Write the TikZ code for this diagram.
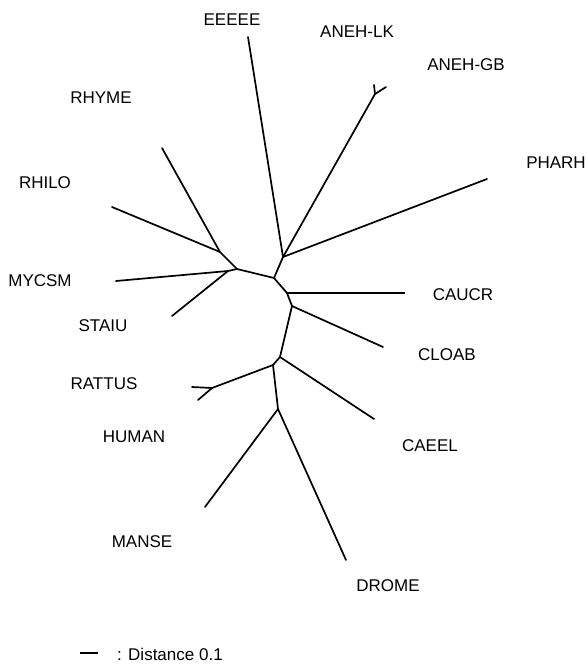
\documentclass[tikz,border=0pt]{standalone}
\usepackage{fontspec}
\setmainfont{Liberation Sans}
\begin{document}
\begin{tikzpicture}[x=1pt,y=-1pt,
  br/.style={line width=1.7pt, line cap=round},
  lbl/.style={font=\fontsize{17}{17}\selectfont, inner sep=0pt}]
\useasboundingbox (0,0) rectangle (587,669);
% internal nodes
\coordinate (A) at (220,252);
\coordinate (B) at (237,269);
\coordinate (K) at (228,271);
\coordinate (C) at (274,278);
\coordinate (D) at (283,257);
\coordinate (N) at (375,94);
\coordinate (E) at (287,293);
\coordinate (F) at (292,306);
\coordinate (G) at (280,357);
\coordinate (H) at (273,365);
\coordinate (J) at (212,388);
\coordinate (I) at (278,409);
% tips
\coordinate (tEEEEE) at (248,37);
\coordinate (tLK) at (374,85);
\coordinate (tGB) at (386,87);
\coordinate (tPHARH) at (487,179);
\coordinate (tRHYME) at (162,148);
\coordinate (tRHILO) at (112,207);
\coordinate (tMYCSM) at (116,281);
\coordinate (tSTAIU) at (172,316);
\coordinate (tCAUCR) at (405,293);
\coordinate (tCLOAB) at (383,347);
\coordinate (tRATTUS) at (192,387);
\coordinate (tHUMAN) at (198,400);
\coordinate (tCAEEL) at (374,419);
\coordinate (tMANSE) at (205,507);
\coordinate (tDROME) at (346,560);
% branches
\draw[br] (tRHYME) -- (A) -- (B);
\draw[br] (tRHILO) -- (A);
\draw[br] (tMYCSM) -- (K) -- (B);
\draw[br] (tSTAIU) -- (K);
\draw[br] (B) -- (C) -- (D) -- (tEEEEE);
\draw[br] (D) -- (N) -- (tLK);
\draw[br] (N) -- (tGB);
\draw[br] (D) -- (tPHARH);
\draw[br] (C) -- (E) -- (F) -- (G) -- (H) -- (I);
\draw[line width=1.3pt] (E) -- (tCAUCR);
\draw[br] (F) -- (tCLOAB);
\draw[br] (G) -- (tCAEEL);
\draw[br] (H) -- (J) -- (tRATTUS);
\draw[br] (J) -- (tHUMAN);
\draw[br] (I) -- (tMANSE);
\draw[br] (I) -- (tDROME);
% labels
\node[lbl] (lEEEEE) at (232,20) {EEEEE};
\node[lbl] (lLK) at (357,32) {ANEH-LK};
\node[lbl] (lGB) at (466,65) {ANEH-GB};
\node[lbl] (lRHYME) at (101,98) {RHYME};
\node[lbl] (lPHARH) at (556,163) {PHARH};
\node[lbl] (lRHILO) at (45,183) {RHILO};
\node[lbl] (lMYCSM) at (40,281) {MYCSM};
\node[lbl] (lCAUCR) at (463,295) {CAUCR};
\node[lbl] (lSTAIU) at (103,326) {STAIU};
\node[lbl] (lCLOAB) at (447,355) {CLOAB};
\node[lbl] (lRATTUS) at (104,384) {RATTUS};
\node[lbl] (lHUMAN) at (134,437) {HUMAN};
\node[lbl] (lCAEEL) at (430,446) {CAEEL};
\node[lbl] (lMANSE) at (142,542) {MANSE};
\node[lbl] (lDROME) at (388,586) {DROME};
% legend
\coordinate (s1) at (80,653);
\coordinate (s2) at (98,653);
\draw[line width=1.3pt] (s1) -- (s2);
\node[lbl, anchor=west] (leg) at (117,654) {: Distance 0.1};
\end{tikzpicture}
\end{document}
